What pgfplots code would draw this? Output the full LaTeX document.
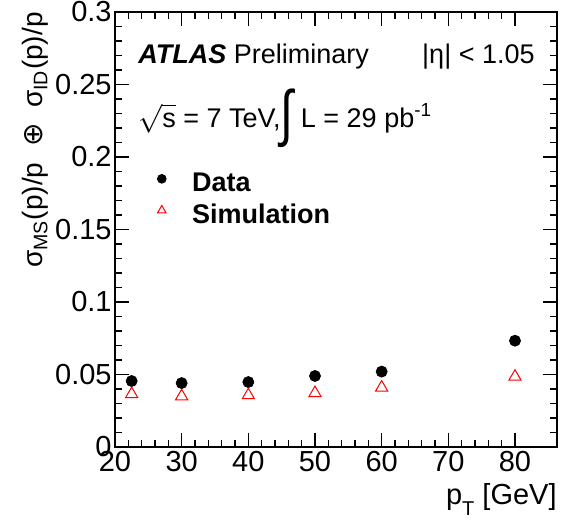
\documentclass[border=0pt]{standalone}
\usepackage{fontspec}
\setmainfont{Liberation Sans}
\newfontfamily\dejavu{DejaVu Sans}
\usepackage{graphicx}
\usepackage{pgfplots}
\pgfplotsset{compat=1.18}
\begin{document}
\begin{tikzpicture}
\path[use as bounding box] (-57.5pt,-40pt) rectangle (224pt,223.5pt);
\begin{axis}[
  scale only axis,
  width=221pt, height=217.5pt,
  xmin=20, xmax=86.3, ymin=0, ymax=0.3,
  xtick={20,30,...,80}, ytick={0,0.05,...,0.3},
  yticklabels={0,0.05,0.1,0.15,0.2,0.25,0.3},
  minor x tick num=4, minor y tick num=4,
  tick align=inside, tick pos=both,
  major tick length=7pt, minor tick length=3.5pt,
  axis line style={line width=1pt},
  every tick/.style={black, line width=0.6pt},
  /pgf/number format/assume math mode=true,
  tick label style={font=\fontsize{14.5}{16}\selectfont},
  yticklabel style={inner sep=1.5pt},
  xticklabel style={inner sep=2pt},
  every axis x label/.style={at={(rel axis cs:1,-0.133)}, anchor=base east, inner sep=0pt, font=\fontsize{14.5}{16}\selectfont},
  every axis y label/.style={at={(rel axis cs:-0.163,1)}, rotate=90, anchor=base east, inner sep=0pt, font=\fontsize{14}{16}\selectfont},
  xlabel={p\raisebox{-0.35em}{\fontsize{10}{10}\selectfont T} [GeV]},
  ylabel={σ\textsubscript{MS}(p)/p \ {\dejavu ⊕} \ σ\textsubscript{ID}(p)/p},
  legend style={at={(axis cs:25.4,0.1895)}, anchor=north west, draw=none, fill=none,
    font=\bfseries\fontsize{13.5}{15}\selectfont, row sep=5pt, inner sep=0pt,
    nodes={inner sep=0pt}},
  legend cell align=left,
]
\addplot[only marks, mark=*, mark size=2.75pt, black,
  legend image code/.code={\path (-5pt,0pt) (15pt,0pt); \draw[black, mark=*, mark size=2.2pt] plot coordinates {(0pt,2.3pt)};}] coordinates {
  (22.5,0.0455) (30,0.0441) (40,0.0448) (50,0.049) (60,0.052) (80,0.0733)
};
\addlegendentry{Data}
\addplot[only marks, mark=triangle, mark size=3.5pt, red, mark options={line width=0.5pt},
  legend image code/.code={\path (-5pt,0pt) (15pt,0pt); \draw[red, line width=0.5pt, mark=triangle, mark size=2.5pt] plot coordinates {(0pt,2.5pt)};}] coordinates {
  (22.5,0.0365) (30,0.035) (40,0.0357) (50,0.0372) (60,0.041) (80,0.0485)
};
\addlegendentry{Simulation}
\node[anchor=base west, inner sep=0pt, font=\fontsize{13.5}{15}\selectfont] at (axis cs:23.45,0.2648) {\textbf{\itshape ATLAS} Preliminary};
\node[anchor=base east, inner sep=0pt, font=\fontsize{13.5}{15}\selectfont] at (axis cs:83.0,0.2648) {|η| < 1.05};
\node[anchor=base west, inner sep=0pt, font=\fontsize{13.5}{15}\selectfont] at (axis cs:23.45,0.2205) {$\sqrt{\mbox{s}}$ = 7 TeV,\raisebox{-3.5pt}{\scalebox{0.75}[1]{\fontsize{31}{31}\selectfont ∫}} L = 29 pb\textsuperscript{-1}};
\end{axis}
\end{tikzpicture}
\end{document}
